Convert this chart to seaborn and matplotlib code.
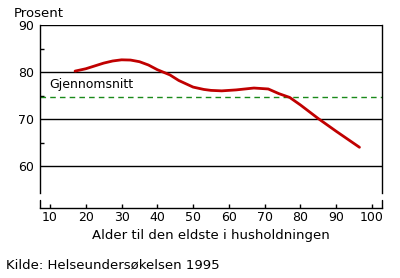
import matplotlib
matplotlib.use("Agg")
import matplotlib.pyplot as plt
import seaborn as sns
import pandas as pd
from matplotlib.lines import Line2D

ages = [17, 20, 22.5, 25, 27.5, 30, 32.5, 35, 37.5, 40, 43.5, 46, 50, 53, 55, 58, 62, 67, 71, 74, 77, 80, 85, 90, 96.5]
values = [80.2, 80.7, 81.3, 81.9, 82.35, 82.6, 82.55, 82.2, 81.5, 80.5, 79.4, 78.2, 76.8, 76.3, 76.1, 76.0, 76.2, 76.6, 76.4, 75.4, 74.6, 73.0, 70.1, 67.4, 64.0]
average = 74.7
x_ticks = [10, 20, 30, 40, 50, 60, 70, 80, 90, 100]
y_ticks = [60, 70, 80, 90]
y_minor = [65, 75, 85]

sns.set_style("white")
plt.rcParams['font.family'] = ['DejaVu Sans']
plt.rcParams['text.color'] = 'black'
plt.rcParams['xtick.color'] = 'black'
plt.rcParams['ytick.color'] = 'black'
plt.rcParams['axes.labelcolor'] = 'black'

df = pd.DataFrame({"alder": ages, "prosent": values})

fig = plt.figure(figsize=(4.0, 2.78), dpi=100)
ax = fig.add_axes([0.1, 0.252, 0.855, 0.658])

for y in y_ticks:
    ax.axhline(y, color="black", lw=1.0, zorder=1)
ax.axhline(average, color="#1a8a1a", lw=1.0, ls=(0, (4, 3)), zorder=2)

sns.lineplot(data=df, x="alder", y="prosent", ax=ax, color="#c00000", lw=2.0, zorder=3)

ax.set_xlim(7.2, 102.8)
ax.set_ylim(51.1, 90)
ax.set_xticks(x_ticks)
ax.set_yticks(y_ticks)
ax.set_yticks(y_minor, minor=True)
ax.tick_params(axis="x", direction="in", length=3, width=1, labelsize=9, pad=2, bottom=True, top=False, colors="black")
ax.tick_params(axis="y", which="major", length=0, labelsize=9, pad=4, left=True, colors="black")
ax.tick_params(axis="y", which="minor", direction="in", length=3, width=1, left=True, colors="black")

for s in ["left", "right", "bottom"]:
    ax.spines[s].set_visible(True)
    ax.spines[s].set_color("black")
    ax.spines[s].set_linewidth(1.0)
ax.spines["top"].set_visible(False)
ax.spines["left"].set_bounds(54.3, 90)
ax.spines["right"].set_bounds(54.3, 90)
for xa in (0, 1):
    ax.add_line(Line2D([xa, xa], [51.1, 52.7], transform=ax.get_yaxis_transform(),
                       color="black", lw=1.0, clip_on=False))

ax.set_xlabel("Alder til den eldste i husholdningen", fontsize=9.5, labelpad=4, color="black")
ax.set_ylabel("")
ax.text(9.8, 76.0, "Gjennomsnitt", fontsize=9, ha="left", va="bottom", color="black")

fig.text(0.035, 0.975, "Prosent", fontsize=9.5, ha="left", va="top", color="black")
fig.text(0.015, 0.045, "Kilde: Helseundersøkelsen 1995", fontsize=9.5, ha="left", va="center", color="black")

fig.savefig("out.png", dpi=100)
